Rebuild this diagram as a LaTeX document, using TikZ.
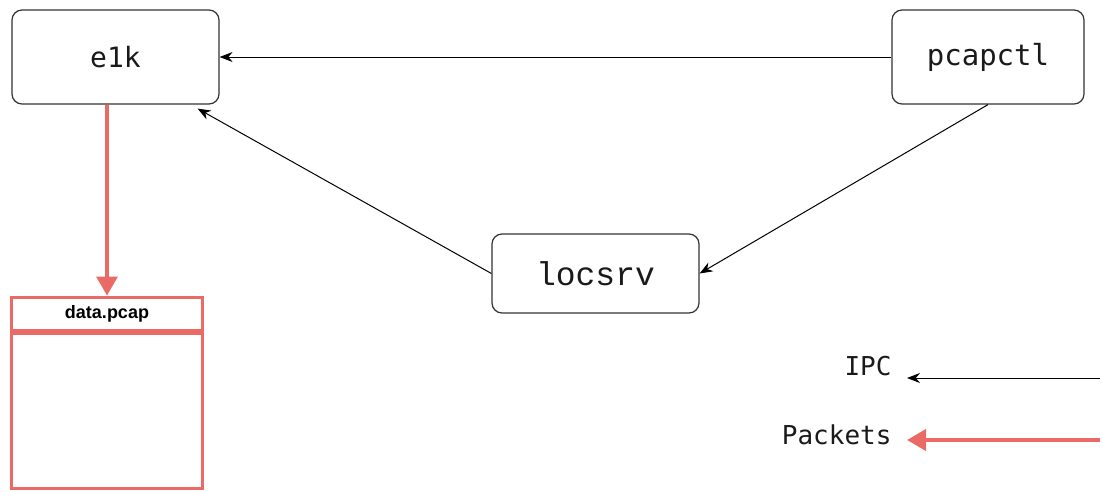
\documentclass[tikz,border=0pt]{standalone}
\usepackage{fontspec}
\setmainfont{Liberation Sans}
\setmonofont{DejaVu Sans Mono}
\newfontfamily\liberationmono{Liberation Mono}
\usepackage{tikz}
\usetikzlibrary{arrows.meta}
\definecolor{pktred}{HTML}{EA6B66}
\definecolor{boxline}{HTML}{333333}
\definecolor{txtgray}{HTML}{1A1A1A}

\begin{document}
\begin{tikzpicture}[x=1pt, y=-1pt,
    proc/.style={draw=boxline, line width=1.2pt, rounded corners=10pt, fill=white,
        text=txtgray, font=\ttfamily\fontsize{28}{32}\selectfont},
    ipc/.style={draw=black, line width=1pt, -{Stealth[length=13pt, width=10pt]}},
    pkt/.style={draw=pktred, line width=3.5pt, -{Triangle[length=19pt, width=21pt]}},
    filebox/.style={draw=pktred, line width=3pt, fill=white, inner sep=0pt}]
    \useasboundingbox (0,0) rectangle (1103,491);

    % processes
    \node[proc, minimum width=207pt, minimum height=94pt] (e1k) at (115.5,57) {e1k};
    \node[proc, minimum width=192pt, minimum height=94pt, font=\ttfamily\fontsize{29}{33}\selectfont] (pcapctl) at (988,57) {pcapctl};
    \node[proc, minimum width=207pt, minimum height=79pt, font=\liberationmono\fontsize{33}{37}\selectfont] (locsrv) at (595.5,273.5) {locsrv};

    % capture file
    \node[filebox, minimum width=191pt, minimum height=33pt, font=\bfseries\fontsize{18}{20}\selectfont] (pcaphead) at (107,313.5) {data.pcap};
    \node[filebox, minimum width=191pt, minimum height=155pt, anchor=north] (pcapbody) at (pcaphead.south) {};

    % connections
    \draw[ipc] (pcapctl.west) -- (e1k.east);
    \draw[ipc] (pcapctl.south) -- (locsrv.east);
    \draw[ipc] (locsrv.west) -- ([xshift=-22pt, yshift=-4pt]e1k.south east);
    \draw[pkt] (pcaphead.north |- e1k.south) -- (pcaphead.north);

    % legend
    \node[anchor=east, font=\ttfamily\fontsize{26}{30}\selectfont, text=txtgray] (ipclbl) at (895,366) {IPC};
    \node[anchor=east, font=\ttfamily\fontsize{26}{30}\selectfont, text=txtgray] (pktlbl) at (895,435) {Packets};
    \coordinate (ipcfrom) at (1100,378);
    \coordinate (ipcto) at (907,378);
    \coordinate (pktfrom) at (1100,440);
    \coordinate (pktto) at (907,440);
    \draw[ipc] (ipcfrom) -- (ipcto);
    \draw[pkt, line width=4pt] (pktfrom) -- (pktto);
\end{tikzpicture}
\end{document}
